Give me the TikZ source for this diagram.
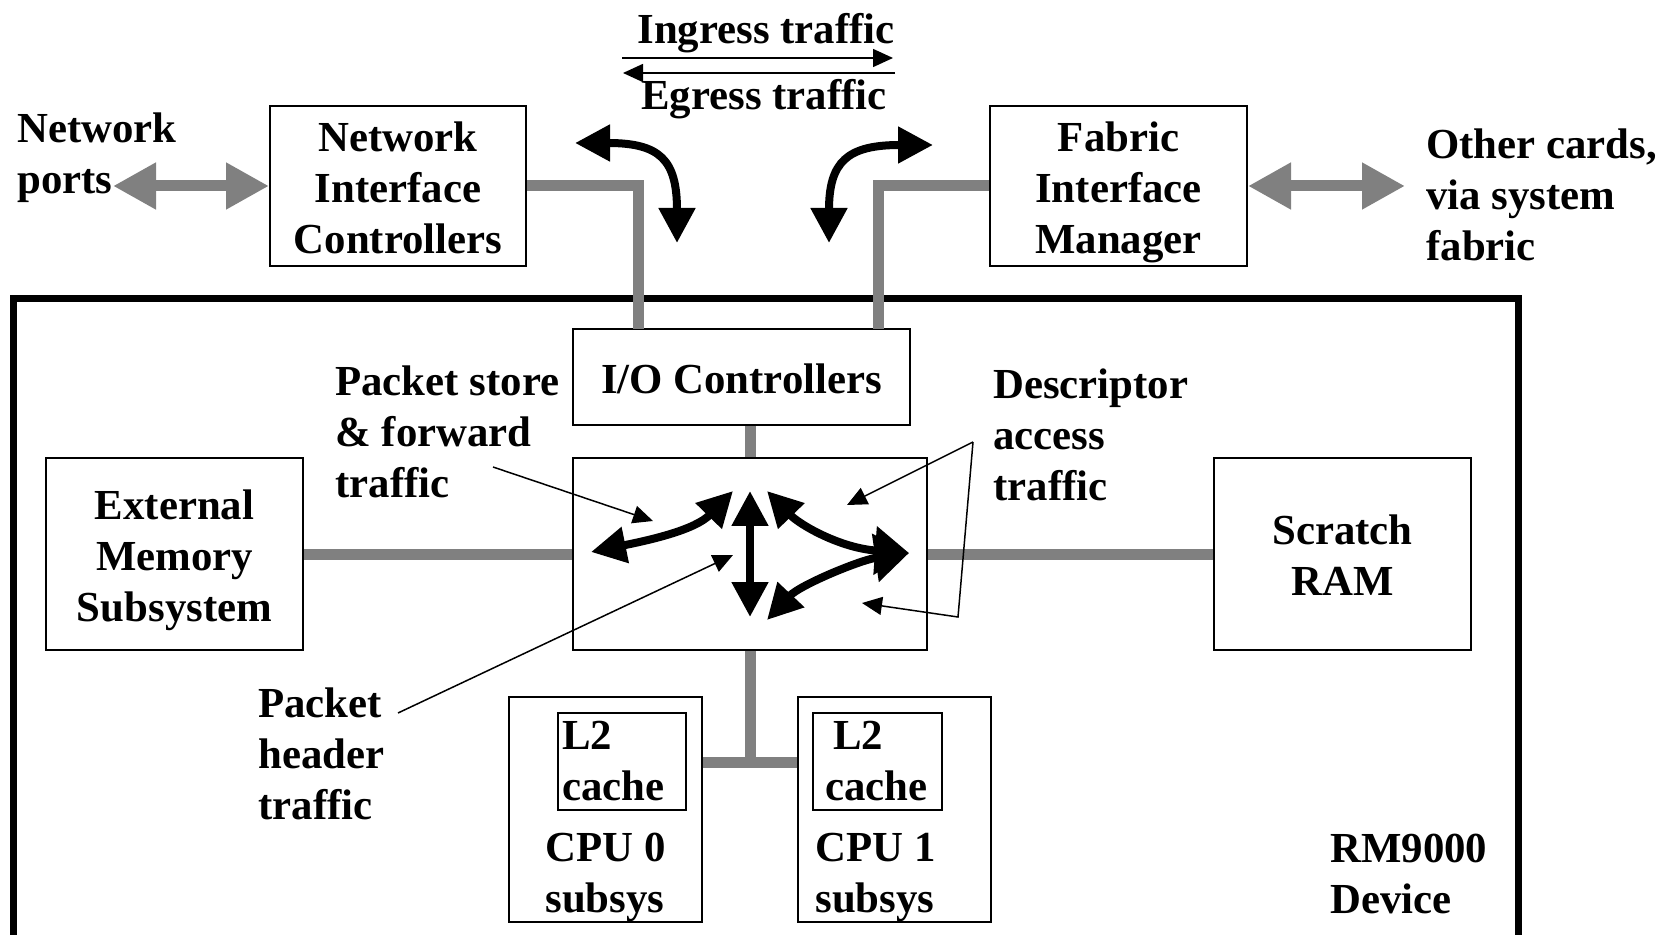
\documentclass[tikz,border=0pt]{standalone}
\usepackage{fontspec}
\setmainfont{Liberation Serif}
\usepackage{tikz}
\usetikzlibrary{arrows.meta, positioning}
\definecolor{busgray}{RGB}{128,128,128}
\newcommand{\boxtop}{\rule{0pt}{21pt}}
\newcommand{\boxbot}{\rule[-4.9pt]{0pt}{4.9pt}}

\begin{document}
\begin{tikzpicture}[x=0.5pt, y=-0.5pt,
    font=\fontsize{21.4}{25.5}\selectfont\bfseries,
    box/.style={draw, line width=1pt, inner sep=0pt, align=center},
    lbl/.style={inner sep=0pt, align=left, anchor=west},
    bus/.style={draw=busgray, line width=5.5pt},
    fatgray/.style={busgray, line width=5.5pt, {Triangle[length=21.5pt,width=22pt]}-{Triangle[length=21.5pt,width=22pt]}},
    flow/.style={line width=4pt, {Triangle[length=17.5pt,width=17.5pt]}-{Triangle[length=17.5pt,width=17.5pt]}},
    bigflow/.style={line width=4pt, {Triangle[length=17.5pt,width=17.5pt]}-{Triangle[length=17pt,width=23.5pt]}},
    pointer/.style={line width=0.75pt, -{Triangle[length=10pt,width=9pt]}}]

    % Canvas
    \path[use as bounding box, fill=white] (0,0) rectangle (1671,935);

    % Device outline
    \draw[line width=3.5pt] (13.5,299) rectangle (1518,939);

    % Blocks
    \node[box, minimum width=128pt, minimum height=80pt] (nic) at (398,186) {\boxtop Network\\Interface\\Controllers\boxbot};
    \node[box, minimum width=128.5pt, minimum height=80pt] (fim) at (1118.5,186) {\boxtop Fabric\\Interface\\Manager\boxbot};
    \node[box, minimum width=168.5pt, minimum height=48pt] (io) at (741.5,377) {\boxtop I/O Controllers\boxbot};
    \node[box, minimum width=177pt, minimum height=96pt] (sw) at (750,554) {};
    \node[box, minimum width=128.5pt, minimum height=96pt] (mem) at (174.5,554) {\boxtop External\\Memory\\Subsystem\boxbot};
    \node[box, minimum width=128.5pt, minimum height=96pt] (ram) at (1342.5,554) {\boxtop Scratch\\RAM\boxbot};
    \node[box, minimum width=96.5pt, minimum height=112.5pt] (cpu0) at (605.5,809.5) {};
    \node[box, minimum width=96.5pt, minimum height=112.5pt] (cpu1) at (894.5,809.5) {};
    \node[box, minimum height=48.5pt, inner xsep=2pt, text width=60pt, align=left] (l2a) at (622,761.5) {L2\\cache};
    \node[box, minimum height=48.5pt, inner xsep=2pt, text width=60.5pt, align=left] (l2b) at (877.5,761.5) {\hspace*{8pt}L2\\\hspace*{4pt}cache};

    % Labels
    \node[lbl] (cpu0txt) at (545,877) {CPU 0\\subsys};
    \node[lbl] (cpu1txt) at (815,877) {CPU 1\\subsys};
    \node[lbl] (devtxt) at (1330,874) {RM9000\\Device};
    \node[lbl] (ports) at (17,158) {Network\\ports};
    \node[lbl] (others) at (1426,195) {Other cards,\\via system\\fabric};
    \node[lbl] (psflbl) at (335,432) {Packet store\\\& forward\\traffic};
    \node[lbl] (desclbl) at (993,435) {Descriptor\\access\\traffic};
    \node[lbl] (hdrlbl) at (258,754) {Packet\\header\\traffic};
    \node (ingress) at (766,33) {Ingress traffic};
    \node (egress) at (764,99) {Egress traffic};

    % Free ends
    \coordinate (portstip) at (113,186);
    \coordinate (otherstip) at (1405,186);
    \coordinate (nicdrop) at (638,329);
    \coordinate (fimdrop) at (878,329);
    \coordinate (cpubus) at (750,762);
    \coordinate (inga) at (622,58);
    \coordinate (ingb) at (893,58);
    \coordinate (ega) at (895,73);
    \coordinate (egb) at (623,73);
    \coordinate (nl) at (575,143);
    \coordinate (nb) at (677,243);
    \coordinate (fr) at (933,145);
    \coordinate (fb) at (829,243);
    \coordinate (swl) at (591,552);
    \coordinate (swtl) at (733,491);
    \coordinate (swt) at (750,491);
    \coordinate (swb) at (750,617);
    \coordinate (swtr) at (767,491);
    \coordinate (swr) at (909,553);
    \coordinate (swbr) at (767,620);
    \coordinate (psfa) at (493,467);
    \coordinate (psfb) at (653,521);
    \coordinate (hdra) at (398,713);
    \coordinate (hdrb) at (733,555);
    \coordinate (desca) at (973,442);
    \coordinate (descb) at (847,505);
    \coordinate (descc) at (958,617);
    \coordinate (descd) at (862,603);

    % Buses
    \draw[bus] (nic.east) -| (nicdrop);
    \draw[bus] (fim.west) -| (fimdrop);
    \draw[bus] (io.south -| sw.north) -- (sw.north);
    \draw[bus] (mem) -- (sw);
    \draw[bus] (sw) -- (ram);
    \draw[bus] (sw) -- (cpubus);
    \draw[bus] (cpu0.east |- cpubus) -- (cpu1.west |- cpubus);
    \draw[fatgray] (portstip) -- (nic.west);
    \draw[fatgray] (fim.east) -- (otherstip);

    % Traffic directions
    \draw[pointer] (inga) -- (ingb);
    \draw[pointer] (ega) -- (egb);
    \draw[flow] (nl) .. controls (660,143) and (677,160) .. (nb);
    \draw[flow] (fr) .. controls (847,145) and (829,162) .. (fb);

    % Switch traffic
    \draw[flow] (swl) .. controls (650,540) and (695,530) .. (swtl);
    \draw[flow] (swt) -- (swb);
    \draw[bigflow] (swtr) .. controls (800,525) and (840,548) .. (swr);
    \draw[bigflow] (swbr) .. controls (800,585) and (860,560) .. (swr);

    % Pointers
    \draw[pointer] (psfa) -- (psfb);
    \draw[pointer] (hdra) -- (hdrb);
    \draw[pointer] (desca) -- (descb);
    \draw[pointer] (desca) -- (descc) -- (descd);
\end{tikzpicture}
\end{document}
